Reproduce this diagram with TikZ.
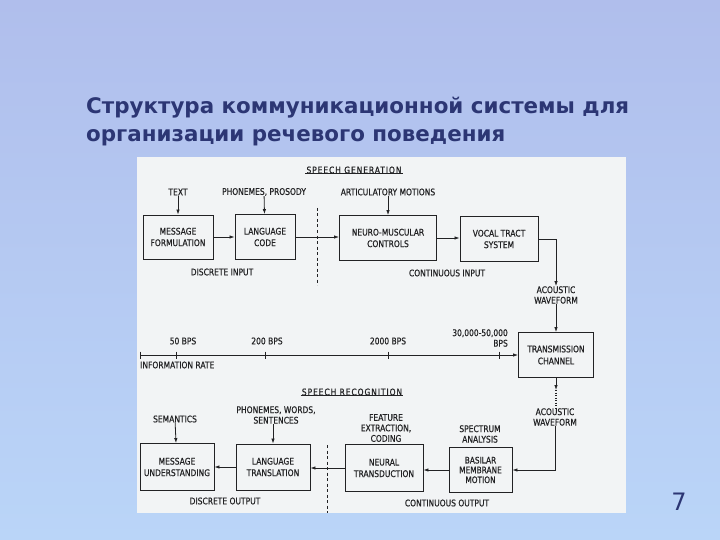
\documentclass[tikz,border=0pt]{standalone}
\usepackage{fontspec}
\usepackage{tikz}
\usetikzlibrary{arrows.meta, positioning}
\usepackage{xcolor}
\newfontfamily\letterfont[FakeStretch=0.82, FakeBold=0.6]{DejaVu Sans}
\newfontfamily\titlefont{DejaVu Sans}
\definecolor{slidetop}{RGB}{176,190,236}
\definecolor{slidebot}{RGB}{186,213,248}
\definecolor{titlenavy}{RGB}{44,54,116}
\definecolor{paper}{RGB}{242,244,245}
\definecolor{ink}{RGB}{34,34,36}

\begin{document}
\begin{tikzpicture}[x=1pt,y=-1pt,
    block/.style={draw=ink, line width=0.9pt, inner sep=0pt, align=center,
        text=ink, font=\letterfont\fontsize{9.2}{11.5}\selectfont},
    lbl/.style={inner sep=0pt, align=center, text=ink,
        font=\letterfont\fontsize{9.2}{10.5}\selectfont},
    head/.style={inner sep=1pt, text=ink,
        font=\letterfont\fontsize{9.2}{10.5}\selectfont\addfontfeature{LetterSpace=10}},
    conn/.style={draw=ink, line width=0.8pt, -{Latex[length=5pt,width=3.5pt]}},
    wire/.style={draw=ink, line width=0.8pt}]
    \useasboundingbox (0,0) rectangle (720,540);
    % slide background and the scanned sheet
    \shade[top color=slidetop, bottom color=slidebot] (0,0) rectangle (720,540);
    \fill[paper] (137,157) rectangle (626,513);
    % title
    \node[anchor=base west, inner sep=0pt, text=titlenavy,
        font=\titlefont\bfseries\fontsize{21.4}{24}\selectfont] (title1) at (86,114)
        {Структура коммуникационной системы для};
    \node[anchor=base west, inner sep=0pt, text=titlenavy,
        font=\titlefont\bfseries\fontsize{21.4}{24}\selectfont] (title2) at (86,142)
        {организации речевого поведения};
    \node[inner sep=0pt, text=titlenavy, font=\titlefont\fontsize{24}{26}\selectfont]
        (pagenum) at (679,502) {7};

    % speech generation
    \node[head] (gen) at (354,170) {SPEECH GENERATION};
    \draw[wire] ([yshift=1pt]gen.south west) -- ([yshift=1pt]gen.south east);
    \node[lbl] (text) at (178,192) {TEXT};
    \node[lbl] (prosody) at (264,192) {PHONEMES, PROSODY};
    \node[lbl] (motions) at (388,192) {ARTICULATORY MOTIONS};
    \node[block, minimum width=70, minimum height=44] (formul) at (178,237) {MESSAGE\\FORMULATION};
    \node[block, minimum width=60, minimum height=45] (code) at (265,237) {LANGUAGE\\CODE};
    \node[block, minimum width=97, minimum height=45] (neuro) at (388,238) {NEURO-MUSCULAR\\CONTROLS};
    \node[block, minimum width=78, minimum height=45] (tract) at (499,239) {VOCAL TRACT\\SYSTEM};
    \draw[conn] (text) -- (formul);
    \draw[conn] (prosody) -- (code);
    \draw[conn] (motions) -- (neuro);
    \draw[conn] (formul.east) -- (code.west |- formul.east);
    \draw[conn] (code.east) -- (neuro.west |- code.east);
    \draw[conn] (neuro.east) -- (tract.west |- neuro.east);
    \node[lbl] (dinput) at (222,272) {DISCRETE INPUT};
    \node[lbl] (cinput) at (447,273) {CONTINUOUS INPUT};
    % border between discrete and continuous
    \coordinate (gtop) at (317,208);
    \coordinate (gbot) at (317,285);
    \draw[wire, dash pattern=on 3pt off 2.5pt] (gtop) -- (gbot);

    % channel
    \node[lbl] (wave1) at (556,295) {ACOUSTIC\\WAVEFORM};
    \node[block, minimum width=75, minimum height=45,
        font=\letterfont\fontsize{9.2}{12}\selectfont] (channel) at (556,355) {TRANSMISSION\\CHANNEL};
    \draw[conn] (tract.east) -| (wave1.north);
    \draw[conn] (wave1) -- (channel);
    \coordinate (tip) at (556,390);
    \node[lbl] (wave2) at (555,417) {ACOUSTIC\\WAVEFORM};
    \draw[conn] (channel) -- (tip);
    \draw[wire, line width=1.2pt, dash pattern=on 1.2pt off 1.3pt] (tip) -- (wave2.north -| tip);

    % information rate
    \coordinate (rate0) at (140,355);
    \draw[conn] (rate0) -- (channel.west |- rate0);
    \foreach \x/\nm in {140/r0, 176/r1, 265/r2, 388/r3, 499/r4}
        \draw[wire] (\x,351.5) -- (\x,358.5) coordinate (\nm);
    \node[lbl] (bps1) at (183,341) {50 BPS};
    \node[lbl] (bps2) at (267,341) {200 BPS};
    \node[lbl] (bps3) at (388,341) {2000 BPS};
    \node[lbl, align=right, anchor=east] (bps4) at (508,338) {30,000-50,000\\BPS};
    \node[lbl, anchor=west] (rate) at (140,365) {INFORMATION RATE};

    % speech recognition
    \node[head] (rec) at (352,392) {SPEECH RECOGNITION};
    \draw[wire] ([yshift=1pt]rec.south west) -- ([yshift=1pt]rec.south east);
    \node[lbl] (sem) at (175,419) {SEMANTICS};
    \node[lbl] (words) at (276,415) {PHONEMES, WORDS,\\SENTENCES};
    \node[lbl] (feature) at (386,428) {FEATURE\\EXTRACTION,\\CODING};
    \node[lbl] (spectrum) at (480,434) {SPECTRUM\\ANALYSIS};
    \node[block, minimum width=74, minimum height=47] (underst) at (177,467) {MESSAGE\\UNDERSTANDING};
    \node[block, minimum width=74, minimum height=46] (transl) at (273,467) {LANGUAGE\\TRANSLATION};
    \node[block, minimum width=78, minimum height=47] (neural) at (384,468) {NEURAL\\TRANSDUCTION};
    \node[block, minimum width=63, minimum height=45,
        font=\letterfont\fontsize{9}{9.8}\selectfont] (basilar) at (480.5,470) {BASILAR\\MEMBRANE\\MOTION};
    \draw[conn] (sem) -- (underst);
    \draw[conn] (words.south -| transl) -- (transl);
    \draw[conn] (wave2.south) |- (basilar.east);
    \draw[conn] (basilar.west) -- (neural.east |- basilar.west);
    \draw[conn] (neural.west) -- (transl.east |- neural.west);
    \draw[conn] (transl.west) -- (underst.east |- transl.west);
    \node[lbl] (doutput) at (225,501) {DISCRETE OUTPUT};
    \node[lbl] (coutput) at (447,503) {CONTINUOUS OUTPUT};
    \coordinate (rtop) at (327,445);
    \coordinate (rbot) at (327,513);
    \draw[wire, dash pattern=on 3pt off 2.5pt] (rtop) -- (rbot);
\end{tikzpicture}
\end{document}
